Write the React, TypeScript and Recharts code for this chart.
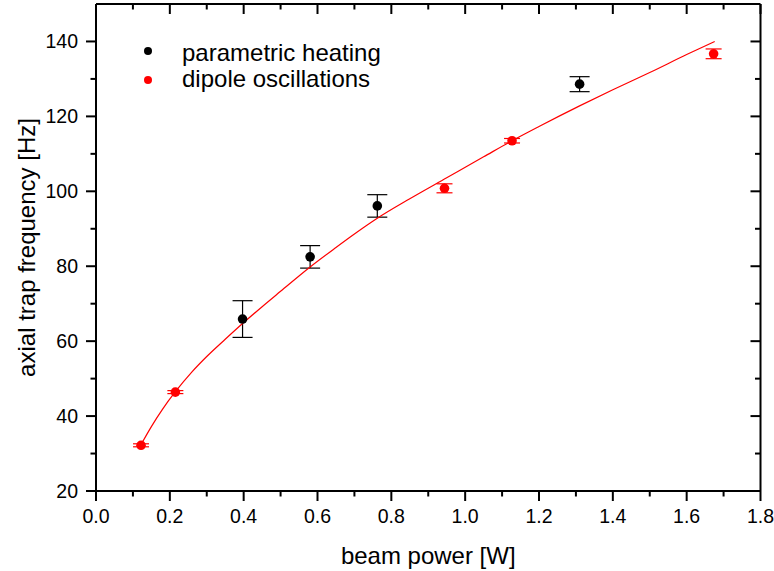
import React from 'react';
import { ComposedChart, Scatter, XAxis, YAxis, ErrorBar, Legend, Label } from 'recharts';

const FONT = '"Liberation Sans", Arial, Helvetica, sans-serif';

// x tick values (every 0.1 W; labels on every second one)
const xTicks = [0, 0.1, 0.2, 0.3, 0.4, 0.5, 0.6, 0.7, 0.8, 0.9, 1.0, 1.1, 1.2, 1.3, 1.4, 1.5, 1.6, 1.7, 1.8];
// y tick values (every 10 Hz; labels on every second one)
const yTicks = [20, 30, 40, 50, 60, 70, 80, 90, 100, 110, 120, 130, 140];

const seriesNames = ['parametric heating', 'dipole oscillations'];
const seriesColors = ['#000000', '#ff0000'];

// parametric heating
const heatingPower = [0.397, 0.58, 0.762, 1.31];
const heatingFreq = [65.9, 82.5, 96.1, 128.6];
const heatingErr = [4.9, 3.0, 3.0, 2.0];

// dipole oscillations
const dipolePower = [0.122, 0.215, 0.944, 1.127, 1.673];
const dipoleFreq = [32.2, 46.4, 100.8, 113.5, 136.7];
const dipoleErr = [0.4, 0.4, 1.2, 0.6, 1.3];

// fitted curve
const fitPower = [0.122, 0.15, 0.18, 0.215, 0.26, 0.3, 0.35, 0.397, 0.45, 0.5, 0.58, 0.65, 0.7, 0.762, 0.85, 0.95, 1.05, 1.127, 1.2, 1.31, 1.4, 1.5, 1.6, 1.676];
const fitFreq = [32.4, 37.2, 41.8, 46.5, 51.8, 55.9, 60.5, 64.7, 69.2, 73.3, 79.8, 85.0, 88.6, 92.8, 98.0, 103.6, 109.2, 113.5, 117.3, 122.8, 127.1, 131.7, 136.5, 140.0];

const heatingData = heatingPower.map((x, i) => ({ x, y: heatingFreq[i], err: heatingErr[i] }));
const dipoleData = dipolePower.map((x, i) => ({ x, y: dipoleFreq[i], err: dipoleErr[i] }));
const fitData = fitPower.map((x, i) => ({ x, y: fitFreq[i] }));

const isMajorX = (v: number) => Math.round(v * 10) % 2 === 0;
const isMajorY = (v: number) => Math.round(v) % 20 === 0;

const BottomTick = (p: any) => {
  const v = p.payload.value;
  const major = isMajorX(v);
  return (
    <g>
      <line x1={p.x} y1={p.y} x2={p.x} y2={p.y + (major ? 10 : 5.5)} stroke="#000" strokeWidth={2} />
      {major && (
        <text x={p.x} y={p.y + 32} textAnchor="middle" fontSize={19.5} fontFamily={FONT} fill="#000">
          {v.toFixed(1)}
        </text>
      )}
    </g>
  );
};

const TopTick = (p: any) => {
  const v = p.payload.value;
  const major = isMajorX(v);
  return <line x1={p.x} y1={p.y} x2={p.x} y2={p.y + (major ? 10 : 5.5)} stroke="#000" strokeWidth={2} />;
};

const LeftTick = (p: any) => {
  const v = p.payload.value;
  const major = isMajorY(v);
  return (
    <g>
      <line x1={p.x - (major ? 10 : 5.5)} y1={p.y} x2={p.x} y2={p.y} stroke="#000" strokeWidth={2} />
      {major && (
        <text x={p.x - 18} y={p.y + 7} textAnchor="end" fontSize={19.5} fontFamily={FONT} fill="#000">
          {v}
        </text>
      )}
    </g>
  );
};

const RightTick = (p: any) => {
  const v = p.payload.value;
  const major = isMajorY(v);
  return <line x1={p.x - (major ? 10 : 5.5)} y1={p.y} x2={p.x} y2={p.y} stroke="#000" strokeWidth={2} />;
};

const Dot = (color: string) => (p: any) => <circle cx={p.cx} cy={p.cy} r={4.8} fill={color} />;
const NoDot = () => <g />;

const LegendBox = () => (
  <svg width={260} height={70} style={{ display: 'block' }}>
    {seriesNames.map((name, i) => (
      <g key={name}>
        <circle cx={18} cy={21 + i * 29} r={4} fill={seriesColors[i]} />
        <text x={52} y={31 + i * 26} fontSize={24} fontFamily={FONT} fill="#000">
          {name}
        </text>
      </g>
    ))}
  </svg>
);

const YTitle = (props: any) => {
  const vb = props.viewBox;
  const cx = vb.x + 35;
  const cy = vb.y + vb.height / 2;
  return (
    <text x={cx} y={cy} transform={`rotate(-90, ${cx}, ${cy})`} textAnchor="middle" fontSize={24} fontFamily={FONT} fill="#000">
      axial trap frequency [Hz]
    </text>
  );
};

const XTitle = (props: any) => {
  const vb = props.viewBox;
  return (
    <text x={vb.x + vb.width / 2} y={vb.y + 73} textAnchor="middle" fontSize={24} fontFamily={FONT} fill="#000">
      beam power [W]
    </text>
  );
};

export default function App() {
  return (
    <div style={{ position: 'absolute', left: 0, top: 0, background: '#fff' }}>
      <ComposedChart width={774} height={571} margin={{ top: 0, right: 0, bottom: 0, left: 0 }}>
        <XAxis
          xAxisId={0}
          dataKey="x"
          type="number"
          domain={[0, 1.8]}
          ticks={xTicks}
          interval={0}
          orientation="bottom"
          height={80}
          tickSize={0}
          tickMargin={0}
          tickLine={false}
          tick={BottomTick}
          axisLine={{ stroke: '#000', strokeWidth: 2 }}
          allowDataOverflow
        >
          <Label content={XTitle} />
        </XAxis>
        <XAxis
          xAxisId="top"
          dataKey="x"
          type="number"
          domain={[0, 1.8]}
          ticks={xTicks}
          interval={0}
          orientation="top"
          height={4}
          tickSize={0}
          tickMargin={0}
          tickLine={false}
          tick={TopTick}
          axisLine={{ stroke: '#000', strokeWidth: 2 }}
          allowDataOverflow
        />
        <YAxis
          yAxisId={0}
          type="number"
          domain={[20, 150]}
          ticks={yTicks}
          interval={0}
          orientation="left"
          width={96}
          tickSize={0}
          tickMargin={0}
          tickLine={false}
          tick={LeftTick}
          axisLine={{ stroke: '#000', strokeWidth: 2 }}
          allowDataOverflow
        >
          <Label content={YTitle} />
        </YAxis>
        <YAxis
          yAxisId="right"
          type="number"
          domain={[20, 150]}
          ticks={yTicks}
          interval={0}
          orientation="right"
          width={13.5}
          tickSize={0}
          tickMargin={0}
          tickLine={false}
          tick={RightTick}
          axisLine={{ stroke: '#000', strokeWidth: 2 }}
          allowDataOverflow
        />
        <Legend
          layout="horizontal"
          verticalAlign="middle"
          align="center"
          wrapperStyle={{ left: 130, top: 30, width: 260, height: 70 }}
          content={() => <LegendBox />}
        />
        <Scatter
          name="fit"
          data={fitData}
          dataKey="y"
          line={{ stroke: '#ff0000', strokeWidth: 1.2 }}
          lineJointType="monotoneX"
          shape={NoDot}
          legendType="none"
          isAnimationActive={false}
        />
        <Scatter name={seriesNames[0]} data={heatingData} dataKey="y" shape={Dot(seriesColors[0])} isAnimationActive={false}>
          <ErrorBar dataKey="err" direction="y" width={10} stroke="#000" strokeWidth={1.2} />
        </Scatter>
        <Scatter name={seriesNames[1]} data={dipoleData} dataKey="y" shape={Dot(seriesColors[1])} isAnimationActive={false}>
          <ErrorBar dataKey="err" direction="y" width={8} stroke="#ff0000" strokeWidth={1.2} />
        </Scatter>
      </ComposedChart>
    </div>
  );
}
